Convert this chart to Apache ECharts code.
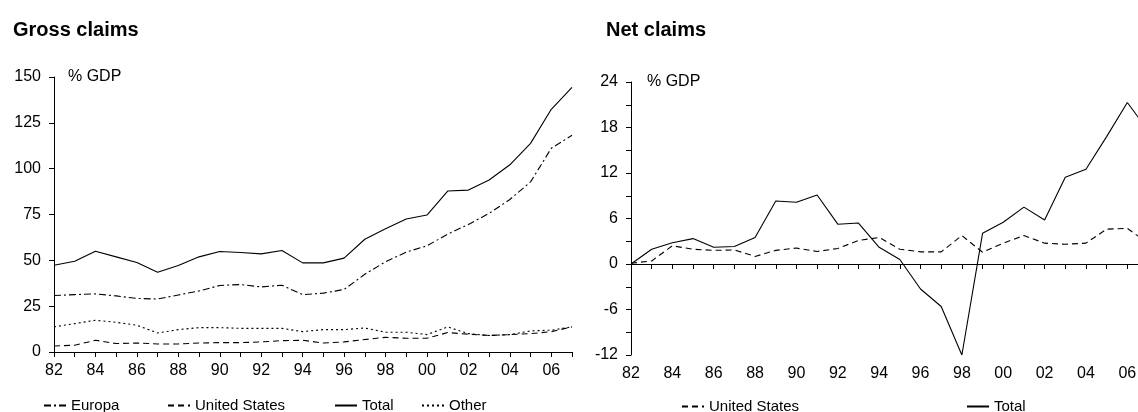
<!DOCTYPE html>
<html>
<head>
<meta charset="utf-8">
<script src="https://cdn.jsdelivr.net/npm/echarts@6/dist/echarts.min.js"></script>
<style>
  html, body { margin: 0; padding: 0; background: #fff; overflow: hidden; }
  #chart { width: 1160px; height: 412px; }
</style>
</head>
<body>
<div id="chart"></div>
<script>
// Years 1982-2007, labelled by two digits
const years = ['82','83','84','85','86','87','88','89','90','91','92','93','94','95','96','97','98','99','00','01','02','03','04','05','06','07'];

// Gross claims, % of GDP
const grossTotal  = [47.3,49.5,55.0,51.9,48.8,43.5,47.2,51.9,54.8,54.3,53.5,55.4,48.6,48.6,51.2,61.5,67.2,72.5,74.7,87.8,88.3,93.8,102.1,113.8,132.4,144.4];
const grossEuropa = [30.8,31.3,31.7,30.6,29.2,28.9,31.1,33.3,36.3,36.8,35.5,36.4,31.3,32.1,34.1,42.4,49.2,54.5,57.9,64.3,69.6,75.6,83.2,92.8,111.1,118.2];
const grossUS     = [3.3,3.7,6.4,4.6,4.9,4.4,4.4,4.9,5.1,5.1,5.5,6.2,6.4,4.9,5.5,6.8,8.0,7.5,7.5,10.6,9.7,9.0,9.5,10.0,11.1,13.7];
const grossOther  = [13.7,15.5,17.3,16.2,14.6,10.4,12.2,13.3,13.3,12.9,12.9,12.9,11.1,12.2,12.2,13.1,10.8,10.8,9.5,13.7,10.0,9.0,9.5,11.5,11.9,13.7];

// Net claims, % of GDP
const netTotal = [0,1.95,2.8,3.35,2.2,2.3,3.5,8.3,8.15,9.1,5.25,5.4,2.2,0.6,-3.3,-5.6,-12,4.05,5.5,7.5,5.8,11.45,12.5,16.8,21.3,17.6];
const netUS    = [0.1,0.4,2.4,1.95,1.8,1.85,1.0,1.8,2.1,1.65,2.05,3.1,3.5,1.95,1.6,1.6,3.75,1.55,2.75,3.75,2.75,2.6,2.75,4.6,4.7,2.75];

const FONT = '"Liberation Sans", Arial, sans-serif';
const INK = '#000';

const styles = {
  solid:   'solid',
  dashed:  [6, 4],
  dashDot: [7, 3, 2, 3],
  dotted:  [2, 3]
};

function xAxis(gridIndex) {
  return {
    type: 'category', gridIndex, data: years, boundaryGap: false,
    axisLine: { lineStyle: { color: INK, width: 1 } },
    axisTick: { show: true, interval: 0, length: 5, inside: false, lineStyle: { color: INK } },
    axisLabel: { interval: 1, margin: 11, color: INK, fontFamily: FONT, fontSize: 16 },
    splitLine: { show: false }
  };
}

function yAxis(gridIndex, min, max, interval, minor) {
  return {
    type: 'value', gridIndex, min, max, interval,
    name: '% GDP', nameLocation: 'end', nameGap: 0,
    nameTextStyle: { color: INK, fontFamily: FONT, fontSize: 16, align: 'left', verticalAlign: 'middle', padding: [0, 0, 0, gridIndex === 0 ? 14 : 16] },
    axisLine: { show: true, lineStyle: { color: INK, width: 1 } },
    axisTick: { show: true, length: 5, lineStyle: { color: INK } },
    minorTick: { show: minor, splitNumber: 2, length: 5, lineStyle: { color: INK } },
    axisLabel: { margin: 13, color: INK, fontFamily: FONT, fontSize: 16 },
    splitLine: { show: false },
    minorSplitLine: { show: false }
  };
}

function line(name, data, type, xi, yi) {
  return {
    name, type: 'line', data, xAxisIndex: xi, yAxisIndex: yi,
    symbol: 'none', smooth: false, animation: false,
    lineStyle: { color: INK, width: 1.1, type },
    itemStyle: { color: INK },
    emphasis: { disabled: true }
  };
}

function legendItem(name, left, top) {
  return {
    data: [name], left, top, orient: 'horizontal',
    itemWidth: 22, itemHeight: 10, itemGap: 0,
    itemStyle: { opacity: 0 },
    textStyle: { color: INK, fontFamily: FONT, fontSize: 15 },
    selectedMode: false
  };
}

const chart = echarts.init(document.getElementById('chart'), null, { renderer: 'canvas' });
chart.setOption({
  animation: false,
  backgroundColor: '#fff',
  title: [
    { text: 'Gross claims', left: 8, top: 15, textStyle: { fontFamily: FONT, fontSize: 20, fontWeight: 'bold', color: INK } },
    { text: 'Net claims', left: 601, top: 15, textStyle: { fontFamily: FONT, fontSize: 20, fontWeight: 'bold', color: INK } }
  ],
  grid: [
    { left: 54, top: 77, width: 518, height: 275, containLabel: false },
    { left: 631, top: 82, width: 517, height: 273, containLabel: false }
  ],
  xAxis: [xAxis(0), xAxis(1)],
  yAxis: [yAxis(0, 0, 150, 25, false), yAxis(1, -12, 24, 6, true)],
  legend: [
    legendItem('Europa', 38, 393),
    legendItem('United States', 162, 393),
    legendItem('Total', 329, 393),
    legendItem('Other', 416, 393),
    legendItem('United States ', 676, 394),
    legendItem('Total ', 961, 394)
  ],
  series: [
    line('Europa', grossEuropa, styles.dashDot, 0, 0),
    line('United States', grossUS, styles.dashed, 0, 0),
    line('Total', grossTotal, styles.solid, 0, 0),
    line('Other', grossOther, styles.dotted, 0, 0),
    line('United States ', netUS, styles.dashed, 1, 1),
    line('Total ', netTotal, styles.solid, 1, 1)
  ]
});
</script>
</body>
</html>
